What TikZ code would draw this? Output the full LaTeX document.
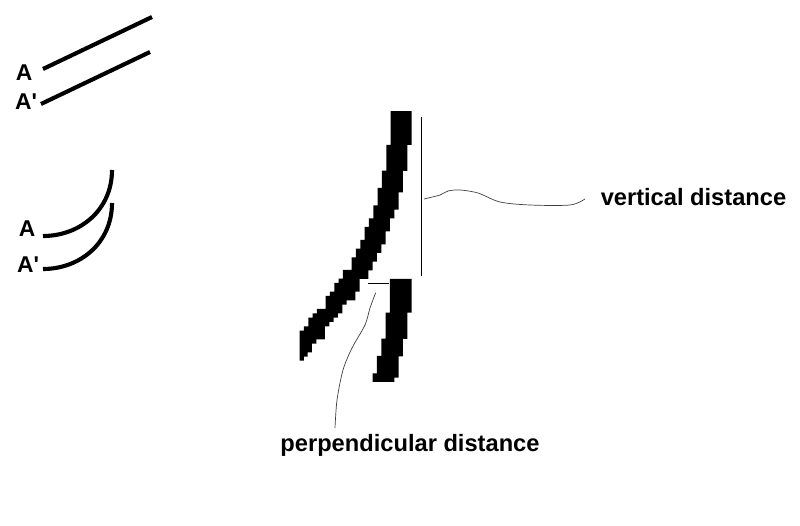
\documentclass[tikz,border=0pt]{standalone}
\usepackage{fontspec}
\setmainfont{Liberation Sans}
\tikzset{
    lbl/.style = {font=\bfseries\fontsize{20.2}{24}\selectfont , inner sep=0pt},
    smalllbl/.style = {font=\bfseries\fontsize{19.5}{22}\selectfont , inner sep=0pt},
    fiber/.style = {line width=3.5pt},
    thinline/.style = {line width=0.8pt},
    wobble/.style = {line width=0.6pt , black!75}
}

\begin{document}
\begin{tikzpicture}[x = 0.03cm , y = -0.03cm]
    \useasboundingbox (0,0) rectangle (800,526);

    % straight pair
    \draw[fiber] (43,69) -- (152,17);
    \draw[fiber] (41,104) -- (150,52);
    \node[smalllbl] (straightA) at (24,73) {A};
    \node[smalllbl] (straightB) at (26,102) {A\textquotesingle};

    % curved pair
    \draw[fiber] (43,236) .. controls (80,236) and (112,210) .. (112,170);
    \draw[fiber] (43,269) .. controls (80,269) and (112,243) .. (112,203);
    \node[smalllbl] (curvedA) at (27,229) {A};
    \node[smalllbl] (curvedB) at (28,265) {A\textquotesingle};

    % big pixel strands
    \begin{scope}[shift={(280,100)} , scale=0.3333]
        \fill[black] (332,33) -- (395,33) -- (395,135) -- (382,135) -- (382,213) -- (369,213)
            -- (369,277) -- (356,277) -- (356,329) -- (343,329) -- (343,355) -- (330,355)
            -- (330,394) -- (317,394) -- (317,433) -- (304,433) -- (304,459) -- (291,459)
            -- (291,485) -- (278,485) -- (278,511) -- (265,511) -- (265,537) -- (239,537)
            -- (239,575) -- (226,575) -- (226,601) -- (200,601) -- (200,614) -- (187,614)
            -- (187,640) -- (174,640) -- (174,653) -- (161,653) -- (161,666) -- (148,666)
            -- (148,679) -- (135,679) -- (135,718) -- (109,718) -- (109,731) -- (96,731)
            -- (96,757) -- (83,757) -- (83,770) -- (72,770) -- (72,782) -- (59,782)
            -- (59,692) -- (72,692) -- (72,679) -- (85,679) -- (85,653) -- (98,653)
            -- (98,640) -- (111,640) -- (111,627) -- (137,627) -- (137,588) -- (150,588)
            -- (150,575) -- (163,575) -- (163,549) -- (176,549) -- (176,536) -- (189,536)
            -- (189,510) -- (215,510) -- (215,472) -- (228,472) -- (228,446) -- (241,446)
            -- (241,420) -- (254,420) -- (254,381) -- (267,381) -- (267,355) -- (280,355)
            -- (280,316) -- (293,316) -- (293,264) -- (306,264) -- (306,212) -- (319,212)
            -- (319,135) -- (332,135) -- cycle;
        \fill[black] (330,537) -- (395,537) -- (395,638) -- (382,638) -- (382,717) -- (369,717)
            -- (369,769) -- (356,769) -- (356,833) -- (343,833) -- (343,846) -- (278,846)
            -- (278,820) -- (291,820) -- (291,768) -- (304,768) -- (304,716) -- (317,716)
            -- (317,638) -- (330,638) -- cycle;
    \end{scope}

    % distances
    \draw[thinline] (421,117) -- (421,276);
    \draw[thinline] (368,283) -- (389,283);

    % labels and their wavy lines
    \node[lbl] (vertical) at (693.5,197) {vertical distance};
    \node[lbl] (perp) at (410,445) {perpendicular distance};
    \draw[wobble] plot[smooth] coordinates {(424,199) (440,195) (448,191) (460,190) (478,193) (500,202) (530,205) (570,205) (585,199)};
    \draw[wobble] plot[smooth] coordinates {(375.7,292.7) (370,308) (365,325) (352,348) (343,370) (337,400) (335,428)};
\end{tikzpicture}
\end{document}
